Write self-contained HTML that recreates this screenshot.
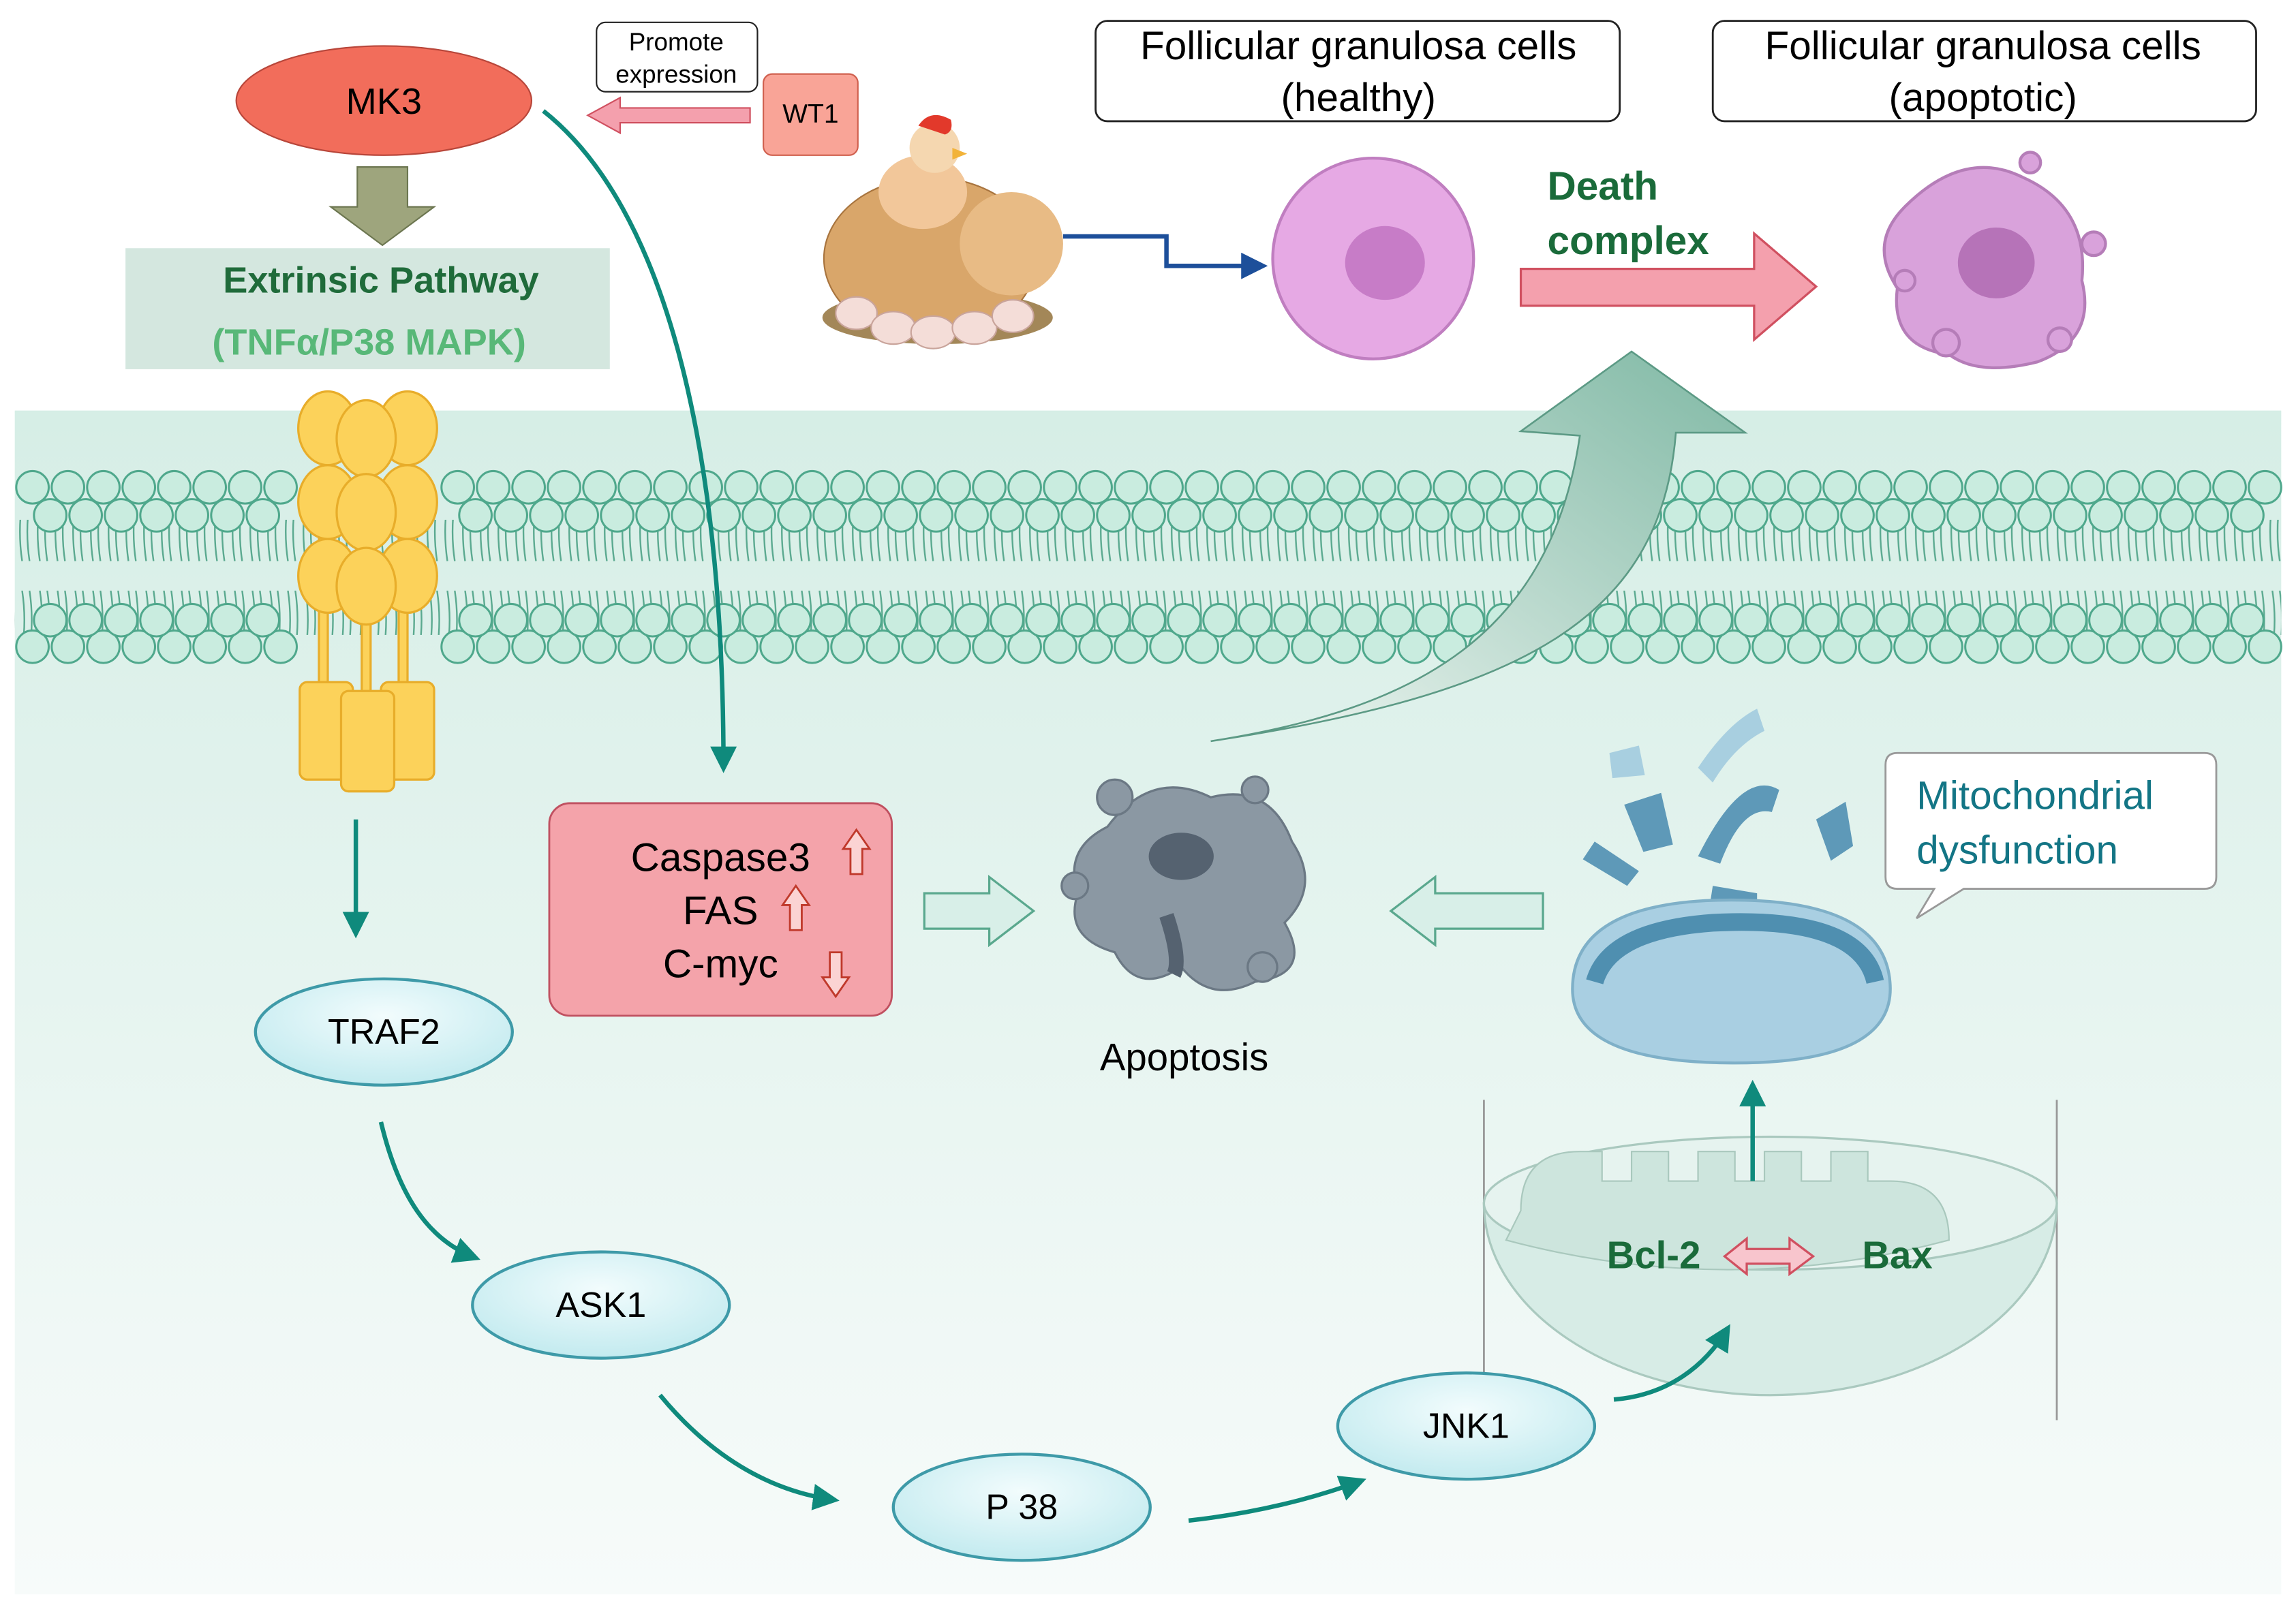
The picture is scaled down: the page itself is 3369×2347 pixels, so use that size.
<!DOCTYPE html>
<html><head><meta charset="utf-8"><style>
html,body{margin:0;padding:0;background:#fff;}
svg{display:block;}
text{font-family:"Liberation Sans",sans-serif;}
</style></head><body>
<svg width="3369" height="2347" viewBox="0 0 1555 1083" xmlns="http://www.w3.org/2000/svg">
<defs>
<linearGradient id="bg" x1="0" y1="0" x2="0" y2="1"><stop offset="0" stop-color="#d6eee6"/><stop offset="1" stop-color="#f7fbfa"/></linearGradient>
<linearGradient id="big" x1="0" y1="1" x2="1" y2="0"><stop offset="0" stop-color="#f2f8f4"/><stop offset="1" stop-color="#7fb8a4"/></linearGradient>
<radialGradient id="nd" cx="0.5" cy="0.35" r="0.7"><stop offset="0" stop-color="#f2fcfd"/><stop offset="1" stop-color="#bfe9ee"/></radialGradient>
<marker id="at" viewBox="0 0 10 10" markerWidth="18" markerHeight="18" refX="8" refY="5" orient="auto" markerUnits="userSpaceOnUse"><path d="M0,0 L10,5 L0,10 Z" fill="#0f8a7c"/></marker>
<marker id="ab" viewBox="0 0 10 10" markerWidth="18" markerHeight="18" refX="8" refY="5" orient="auto" markerUnits="userSpaceOnUse"><path d="M0,0 L10,5 L0,10 Z" fill="#1d4f9a"/></marker>
<pattern id="tails" x="0" y="0" width="12" height="100" patternUnits="userSpaceOnUse">
<path d="M3,0 q3,20 0,40 q-3,20 0,40 M8,0 q3,20 0,40 q-3,20 0,40" stroke="#5aa98f" stroke-width="1.1" fill="none"/>
</pattern>
</defs>
<rect x="10" y="278" width="1535" height="802" fill="url(#bg)"/>
<rect x="10" y="352" width="1535" height="78" fill="url(#tails)"/>
<g fill="#c9ecdf" stroke="#4fa88c" stroke-width="1.4">
<circle cx="22" cy="330" r="11"/><circle cx="46" cy="330" r="11"/><circle cx="70" cy="330" r="11"/><circle cx="94" cy="330" r="11"/><circle cx="118" cy="330" r="11"/><circle cx="142" cy="330" r="11"/><circle cx="166" cy="330" r="11"/><circle cx="190" cy="330" r="11"/><circle cx="310" cy="330" r="11"/><circle cx="334" cy="330" r="11"/><circle cx="358" cy="330" r="11"/><circle cx="382" cy="330" r="11"/><circle cx="406" cy="330" r="11"/><circle cx="430" cy="330" r="11"/><circle cx="454" cy="330" r="11"/><circle cx="478" cy="330" r="11"/><circle cx="502" cy="330" r="11"/><circle cx="526" cy="330" r="11"/><circle cx="550" cy="330" r="11"/><circle cx="574" cy="330" r="11"/><circle cx="598" cy="330" r="11"/><circle cx="622" cy="330" r="11"/><circle cx="646" cy="330" r="11"/><circle cx="670" cy="330" r="11"/><circle cx="694" cy="330" r="11"/><circle cx="718" cy="330" r="11"/><circle cx="742" cy="330" r="11"/><circle cx="766" cy="330" r="11"/><circle cx="790" cy="330" r="11"/><circle cx="814" cy="330" r="11"/><circle cx="838" cy="330" r="11"/><circle cx="862" cy="330" r="11"/><circle cx="886" cy="330" r="11"/><circle cx="910" cy="330" r="11"/><circle cx="934" cy="330" r="11"/><circle cx="958" cy="330" r="11"/><circle cx="982" cy="330" r="11"/><circle cx="1006" cy="330" r="11"/><circle cx="1030" cy="330" r="11"/><circle cx="1054" cy="330" r="11"/><circle cx="1078" cy="330" r="11"/><circle cx="1102" cy="330" r="11"/><circle cx="1126" cy="330" r="11"/><circle cx="1150" cy="330" r="11"/><circle cx="1174" cy="330" r="11"/><circle cx="1198" cy="330" r="11"/><circle cx="1222" cy="330" r="11"/><circle cx="1246" cy="330" r="11"/><circle cx="1270" cy="330" r="11"/><circle cx="1294" cy="330" r="11"/><circle cx="1318" cy="330" r="11"/><circle cx="1342" cy="330" r="11"/><circle cx="1366" cy="330" r="11"/><circle cx="1390" cy="330" r="11"/><circle cx="1414" cy="330" r="11"/><circle cx="1438" cy="330" r="11"/><circle cx="1462" cy="330" r="11"/><circle cx="1486" cy="330" r="11"/><circle cx="1510" cy="330" r="11"/><circle cx="1534" cy="330" r="11"/>
<circle cx="34" cy="349" r="11"/><circle cx="58" cy="349" r="11"/><circle cx="82" cy="349" r="11"/><circle cx="106" cy="349" r="11"/><circle cx="130" cy="349" r="11"/><circle cx="154" cy="349" r="11"/><circle cx="178" cy="349" r="11"/><circle cx="322" cy="349" r="11"/><circle cx="346" cy="349" r="11"/><circle cx="370" cy="349" r="11"/><circle cx="394" cy="349" r="11"/><circle cx="418" cy="349" r="11"/><circle cx="442" cy="349" r="11"/><circle cx="466" cy="349" r="11"/><circle cx="490" cy="349" r="11"/><circle cx="514" cy="349" r="11"/><circle cx="538" cy="349" r="11"/><circle cx="562" cy="349" r="11"/><circle cx="586" cy="349" r="11"/><circle cx="610" cy="349" r="11"/><circle cx="634" cy="349" r="11"/><circle cx="658" cy="349" r="11"/><circle cx="682" cy="349" r="11"/><circle cx="706" cy="349" r="11"/><circle cx="730" cy="349" r="11"/><circle cx="754" cy="349" r="11"/><circle cx="778" cy="349" r="11"/><circle cx="802" cy="349" r="11"/><circle cx="826" cy="349" r="11"/><circle cx="850" cy="349" r="11"/><circle cx="874" cy="349" r="11"/><circle cx="898" cy="349" r="11"/><circle cx="922" cy="349" r="11"/><circle cx="946" cy="349" r="11"/><circle cx="970" cy="349" r="11"/><circle cx="994" cy="349" r="11"/><circle cx="1018" cy="349" r="11"/><circle cx="1042" cy="349" r="11"/><circle cx="1066" cy="349" r="11"/><circle cx="1090" cy="349" r="11"/><circle cx="1114" cy="349" r="11"/><circle cx="1138" cy="349" r="11"/><circle cx="1162" cy="349" r="11"/><circle cx="1186" cy="349" r="11"/><circle cx="1210" cy="349" r="11"/><circle cx="1234" cy="349" r="11"/><circle cx="1258" cy="349" r="11"/><circle cx="1282" cy="349" r="11"/><circle cx="1306" cy="349" r="11"/><circle cx="1330" cy="349" r="11"/><circle cx="1354" cy="349" r="11"/><circle cx="1378" cy="349" r="11"/><circle cx="1402" cy="349" r="11"/><circle cx="1426" cy="349" r="11"/><circle cx="1450" cy="349" r="11"/><circle cx="1474" cy="349" r="11"/><circle cx="1498" cy="349" r="11"/><circle cx="1522" cy="349" r="11"/>
<circle cx="22" cy="438" r="11"/><circle cx="46" cy="438" r="11"/><circle cx="70" cy="438" r="11"/><circle cx="94" cy="438" r="11"/><circle cx="118" cy="438" r="11"/><circle cx="142" cy="438" r="11"/><circle cx="166" cy="438" r="11"/><circle cx="190" cy="438" r="11"/><circle cx="310" cy="438" r="11"/><circle cx="334" cy="438" r="11"/><circle cx="358" cy="438" r="11"/><circle cx="382" cy="438" r="11"/><circle cx="406" cy="438" r="11"/><circle cx="430" cy="438" r="11"/><circle cx="454" cy="438" r="11"/><circle cx="478" cy="438" r="11"/><circle cx="502" cy="438" r="11"/><circle cx="526" cy="438" r="11"/><circle cx="550" cy="438" r="11"/><circle cx="574" cy="438" r="11"/><circle cx="598" cy="438" r="11"/><circle cx="622" cy="438" r="11"/><circle cx="646" cy="438" r="11"/><circle cx="670" cy="438" r="11"/><circle cx="694" cy="438" r="11"/><circle cx="718" cy="438" r="11"/><circle cx="742" cy="438" r="11"/><circle cx="766" cy="438" r="11"/><circle cx="790" cy="438" r="11"/><circle cx="814" cy="438" r="11"/><circle cx="838" cy="438" r="11"/><circle cx="862" cy="438" r="11"/><circle cx="886" cy="438" r="11"/><circle cx="910" cy="438" r="11"/><circle cx="934" cy="438" r="11"/><circle cx="958" cy="438" r="11"/><circle cx="982" cy="438" r="11"/><circle cx="1006" cy="438" r="11"/><circle cx="1030" cy="438" r="11"/><circle cx="1054" cy="438" r="11"/><circle cx="1078" cy="438" r="11"/><circle cx="1102" cy="438" r="11"/><circle cx="1126" cy="438" r="11"/><circle cx="1150" cy="438" r="11"/><circle cx="1174" cy="438" r="11"/><circle cx="1198" cy="438" r="11"/><circle cx="1222" cy="438" r="11"/><circle cx="1246" cy="438" r="11"/><circle cx="1270" cy="438" r="11"/><circle cx="1294" cy="438" r="11"/><circle cx="1318" cy="438" r="11"/><circle cx="1342" cy="438" r="11"/><circle cx="1366" cy="438" r="11"/><circle cx="1390" cy="438" r="11"/><circle cx="1414" cy="438" r="11"/><circle cx="1438" cy="438" r="11"/><circle cx="1462" cy="438" r="11"/><circle cx="1486" cy="438" r="11"/><circle cx="1510" cy="438" r="11"/><circle cx="1534" cy="438" r="11"/>
<circle cx="34" cy="420" r="11"/><circle cx="58" cy="420" r="11"/><circle cx="82" cy="420" r="11"/><circle cx="106" cy="420" r="11"/><circle cx="130" cy="420" r="11"/><circle cx="154" cy="420" r="11"/><circle cx="178" cy="420" r="11"/><circle cx="322" cy="420" r="11"/><circle cx="346" cy="420" r="11"/><circle cx="370" cy="420" r="11"/><circle cx="394" cy="420" r="11"/><circle cx="418" cy="420" r="11"/><circle cx="442" cy="420" r="11"/><circle cx="466" cy="420" r="11"/><circle cx="490" cy="420" r="11"/><circle cx="514" cy="420" r="11"/><circle cx="538" cy="420" r="11"/><circle cx="562" cy="420" r="11"/><circle cx="586" cy="420" r="11"/><circle cx="610" cy="420" r="11"/><circle cx="634" cy="420" r="11"/><circle cx="658" cy="420" r="11"/><circle cx="682" cy="420" r="11"/><circle cx="706" cy="420" r="11"/><circle cx="730" cy="420" r="11"/><circle cx="754" cy="420" r="11"/><circle cx="778" cy="420" r="11"/><circle cx="802" cy="420" r="11"/><circle cx="826" cy="420" r="11"/><circle cx="850" cy="420" r="11"/><circle cx="874" cy="420" r="11"/><circle cx="898" cy="420" r="11"/><circle cx="922" cy="420" r="11"/><circle cx="946" cy="420" r="11"/><circle cx="970" cy="420" r="11"/><circle cx="994" cy="420" r="11"/><circle cx="1018" cy="420" r="11"/><circle cx="1042" cy="420" r="11"/><circle cx="1066" cy="420" r="11"/><circle cx="1090" cy="420" r="11"/><circle cx="1114" cy="420" r="11"/><circle cx="1138" cy="420" r="11"/><circle cx="1162" cy="420" r="11"/><circle cx="1186" cy="420" r="11"/><circle cx="1210" cy="420" r="11"/><circle cx="1234" cy="420" r="11"/><circle cx="1258" cy="420" r="11"/><circle cx="1282" cy="420" r="11"/><circle cx="1306" cy="420" r="11"/><circle cx="1330" cy="420" r="11"/><circle cx="1354" cy="420" r="11"/><circle cx="1378" cy="420" r="11"/><circle cx="1402" cy="420" r="11"/><circle cx="1426" cy="420" r="11"/><circle cx="1450" cy="420" r="11"/><circle cx="1474" cy="420" r="11"/><circle cx="1498" cy="420" r="11"/><circle cx="1522" cy="420" r="11"/>
</g>
<!-- receptor -->
<g fill="#fcd25a" stroke="#e8ad2a" stroke-width="1.5">
<rect x="216" y="360" width="6" height="110"/><rect x="245" y="360" width="6" height="110"/><rect x="270" y="360" width="6" height="110"/>
<ellipse cx="222" cy="290" rx="20" ry="25"/><ellipse cx="276" cy="290" rx="20" ry="25"/><ellipse cx="248" cy="297" rx="20" ry="26"/>
<ellipse cx="222" cy="340" rx="20" ry="25"/><ellipse cx="276" cy="340" rx="20" ry="25"/><ellipse cx="248" cy="347" rx="20" ry="26"/>
<ellipse cx="222" cy="390" rx="20" ry="25"/><ellipse cx="276" cy="390" rx="20" ry="25"/><ellipse cx="248" cy="397" rx="20" ry="26"/>
<rect x="203" y="462" width="36" height="66" rx="5"/><rect x="258" y="462" width="36" height="66" rx="5"/><rect x="231" y="468" width="36" height="68" rx="5"/>
</g>
<!-- top left -->
<ellipse cx="260" cy="68" rx="100" ry="37" fill="#f26d5b" stroke="#b8463a" stroke-width="1"/>
<text x="260" y="77" font-size="25" text-anchor="middle">MK3</text>
<path d="M242,113 H276 V140 H294 L259,166 L224,140 H242 Z" fill="#9ea57d" stroke="#6c7650"/>
<rect x="85" y="168" width="328" height="82" fill="#d4e7df"/>
<text x="258" y="198" font-size="25" font-weight="bold" text-anchor="middle" fill="#1f6b3a">Extrinsic Pathway</text>
<text x="250" y="240" font-size="25" font-weight="bold" text-anchor="middle" fill="#58b878">(TNFα/P38 MAPK)</text>
<rect x="404" y="15" width="109" height="47" rx="6" fill="#fff" stroke="#222"/>
<text x="458" y="34" font-size="17" text-anchor="middle">Promote</text>
<text x="458" y="56" font-size="17" text-anchor="middle">expression</text>
<rect x="517" y="50" width="64" height="55" rx="6" fill="#f9a497" stroke="#d0604f"/>
<text x="549" y="83" font-size="18" text-anchor="middle">WT1</text>
<path d="M508,73 H420 V66 L398,78 L420,90 V83 H508 Z" fill="#f4a0ad" stroke="#d05060"/>
<path d="M368,75 C450,140 490,300 490,520" stroke="#0f8a7c" stroke-width="3" fill="none" marker-end="url(#at)"/>
<!-- hen -->
<ellipse cx="635" cy="215" rx="78" ry="18" fill="#a38758"/>
<ellipse cx="630" cy="175" rx="72" ry="55" fill="#d9a66a" stroke="#a8743e"/>
<ellipse cx="685" cy="165" rx="35" ry="35" fill="#e8bb85"/>
<ellipse cx="625" cy="130" rx="30" ry="25" fill="#f2c79a"/>
<circle cx="633" cy="100" r="17" fill="#f5d7b0"/>
<path d="M622,85 q8,-12 22,-4 q2,8 -4,10 z" fill="#e2392b"/>
<path d="M645,100 l10,4 l-10,4 z" fill="#f2b33a"/>
<g fill="#f4ddd8" stroke="#c9a49b"><ellipse cx="580" cy="212" rx="14" ry="11"/><ellipse cx="605" cy="222" rx="15" ry="11"/><ellipse cx="632" cy="225" rx="15" ry="11"/><ellipse cx="660" cy="222" rx="15" ry="11"/><ellipse cx="686" cy="214" rx="14" ry="11"/></g>
<path d="M720,160 H790 V180 H855" stroke="#1d4f9a" stroke-width="3" fill="none" marker-end="url(#ab)"/>
<!-- cells -->
<rect x="742" y="14" width="355" height="68" rx="8" fill="#fff" stroke="#222" stroke-width="1.3"/>
<text x="920" y="40" font-size="27" text-anchor="middle">Follicular granulosa cells</text>
<text x="920" y="75" font-size="27" text-anchor="middle">(healthy)</text>
<rect x="1160" y="14" width="368" height="68" rx="8" fill="#fff" stroke="#222" stroke-width="1.3"/>
<text x="1343" y="40" font-size="27" text-anchor="middle">Follicular granulosa cells</text>
<text x="1343" y="75" font-size="27" text-anchor="middle">(apoptotic)</text>
<circle cx="930" cy="175" r="68" fill="#e6a9e4" stroke="#c07ec0" stroke-width="2"/>
<ellipse cx="938" cy="178" rx="27" ry="25" fill="#c77cc7"/>
<text x="1048" y="135" font-size="27" font-weight="bold" fill="#1a6b3a">Death</text>
<text x="1048" y="172" font-size="27" font-weight="bold" fill="#1a6b3a">complex</text>
<path d="M1030,182 H1188 V158 L1230,194 L1188,230 V207 H1030 Z" fill="#f4a0ad" stroke="#d05060" stroke-width="1.5"/>
<g fill="#d9a2db" stroke="#b57db8" stroke-width="2">
<path d="M1290,140 q40,-40 80,-20 q45,20 40,70 q10,40 -30,55 q-40,10 -60,-5 q-40,-5 -35,-45 q-20,-30 5,-55z"/>
<circle cx="1418" cy="165" r="8"/><circle cx="1318" cy="232" r="9"/><circle cx="1375" cy="110" r="7"/><circle cx="1290" cy="190" r="7"/><circle cx="1395" cy="230" r="8"/>
</g>
<ellipse cx="1352" cy="178" rx="26" ry="24" fill="#b673b8"/>
<!-- big arrow -->
<path d="M820,502 C960,480 1050,430 1070,295 L1030,292 L1105,238 L1182,293 L1135,293 C1125,420 1030,470 820,502 Z" fill="url(#big)" stroke="#5c9a85" stroke-width="1.2"/>
<!-- caspase -->
<rect x="372" y="544" width="232" height="144" rx="14" fill="#f4a3aa" stroke="#c05060" stroke-width="1.3"/>
<text x="488" y="590" font-size="27" text-anchor="middle">Caspase3</text>
<text x="488" y="626" font-size="27" text-anchor="middle">FAS</text>
<text x="488" y="662" font-size="27" text-anchor="middle">C-myc</text>
<g fill="#fbd3d3" stroke="#c0392b" stroke-width="1.3">
<path d="M576,592 V575 H571 L580,562 L589,575 H584 V592 Z"/>
<path d="M535,630 V613 H530 L539,600 L548,613 H543 V630 Z"/>
<path d="M562,645 V662 H557 L566,675 L575,662 H570 V645 Z"/>
</g>
<path d="M626,605 H670 V594 L700,617 L670,640 V629 H626 Z" fill="#d8efe8" stroke="#5aa88e" stroke-width="1.5"/>
<path d="M1045,605 H972 V594 L942,617 L972,640 V629 H1045 Z" fill="#d8efe8" stroke="#5aa88e" stroke-width="1.5"/>
<!-- apoptosis blob -->
<g fill="#8b98a3" stroke="#6b7884" stroke-width="1.5">
<path d="M750,560 q30,-40 70,-20 q40,-10 55,30 q20,30 -5,55 q20,35 -20,40 q-30,15 -50,-10 q-30,20 -45,-10 q-35,-10 -25,-40 q-10,-30 20,-45z"/>
<circle cx="755" cy="540" r="12"/><circle cx="855" cy="655" r="10"/><circle cx="728" cy="600" r="9"/><circle cx="850" cy="535" r="9"/>
</g>
<ellipse cx="800" cy="580" rx="22" ry="16" fill="#556270"/>
<path d="M790,620 q10,30 5,40" stroke="#556270" stroke-width="10" fill="none"/>
<text x="802" y="725" font-size="26" text-anchor="middle">Apoptosis</text>
<!-- mito fragments -->
<g fill="#5e99b8">
<path d="M1100,545 l25,-8 l8,35 l-20,5 z"/><path d="M1150,580 q30,-60 55,-45 l-5,15 q-20,-5 -35,35 z"/><path d="M1230,555 l20,-12 l5,30 l-15,10 z"/>
<path d="M1080,570 l30,20 l-8,10 l-30,-18 z"/><path d="M1160,600 l30,5 l0,12 l-32,-4 z"/><path d="M1195,640 l40,-20 l5,15 l-40,20 z"/>
</g>
<g fill="#a8cfe0"><path d="M1150,520 q20,-30 40,-40 l5,15 q-20,10 -35,35 z"/><path d="M1090,510 l20,-5 l4,20 l-22,2 z"/></g>
<path d="M1065,670 q0,-55 90,-60 q120,-5 125,55 q5,55 -105,55 q-110,0 -110,-50z" fill="#a9cfe2" stroke="#7fb0c8" stroke-width="2"/>
<path d="M1080,665 q10,-35 80,-40 q100,-5 110,40" fill="none" stroke="#4f8fb0" stroke-width="12"/>
<!-- callout -->
<path d="M1285,510 H1493 q8,0 8,8 V594 q0,8 -8,8 H1330 L1298,622 L1310,602 H1285 q-8,0 -8,-8 V518 q0,-8 8,-8z" fill="#fff" stroke="#999" stroke-width="1.3"/>
<text x="1298" y="548" font-size="27" fill="#137585">Mitochondrial</text>
<text x="1298" y="585" font-size="27" fill="#137585">dysfunction</text>
<!-- lower mito -->
<line x1="1005" y1="745" x2="1005" y2="962" stroke="#999" stroke-width="1.3"/>
<line x1="1393" y1="745" x2="1393" y2="962" stroke="#999" stroke-width="1.3"/>
<path d="M1005,815 A194,130 0 0 0 1393,815 Z" fill="#d7ece6" stroke="#aac9bf" stroke-width="1.5"/>
<ellipse cx="1199" cy="815" rx="194" ry="45" fill="#e6f3ef" stroke="#aac9bf" stroke-width="1.5"/>
<path d="M1030,820 q0,-40 40,-40 h15 v20 h20 v-20 h25 v20 h20 v-20 h25 v20 h20 v-20 h25 v20 h20 v-20 h25 v20 h15 q40,0 40,40 q-150,40 -300,0z" fill="#cde5dd" stroke="#a9c8bd"/>
<text x="1120" y="859" font-size="26" font-weight="bold" text-anchor="middle" fill="#1a6b3a">Bcl-2</text>
<text x="1285" y="859" font-size="26" font-weight="bold" text-anchor="middle" fill="#1a6b3a">Bax</text>
<path d="M1168,851 L1183,839 V846 H1212 V839 L1228,851 L1212,863 V856 H1183 V863 Z" fill="#f8c5cd" stroke="#d05060" stroke-width="1.5"/>
<!-- nodes -->
<g fill="url(#nd)" stroke="#3e9aa8" stroke-width="2">
<ellipse cx="260" cy="699" rx="87" ry="36"/><ellipse cx="407" cy="884" rx="87" ry="36"/><ellipse cx="692" cy="1021" rx="87" ry="36"/><ellipse cx="993" cy="966" rx="87" ry="36"/>
</g>
<text x="260" y="707" font-size="24" text-anchor="middle">TRAF2</text>
<text x="407" y="892" font-size="24" text-anchor="middle">ASK1</text>
<text x="692" y="1029" font-size="24" text-anchor="middle">P 38</text>
<text x="993" y="974" font-size="24" text-anchor="middle">JNK1</text>
<g stroke="#0f8a7c" stroke-width="3" fill="none">
<path d="M241,555 V632" marker-end="url(#at)"/>
<path d="M258,760 C270,810 290,840 322,852" marker-end="url(#at)"/>
<path d="M447,945 C480,985 520,1010 565,1016" marker-end="url(#at)"/>
<path d="M805,1030 C850,1025 890,1015 922,1003" marker-end="url(#at)"/>
<path d="M1093,948 C1130,945 1155,925 1170,900" marker-end="url(#at)"/>
<path d="M1187,800 V735" marker-end="url(#at)"/>
</g>
</svg>
</body></html>
